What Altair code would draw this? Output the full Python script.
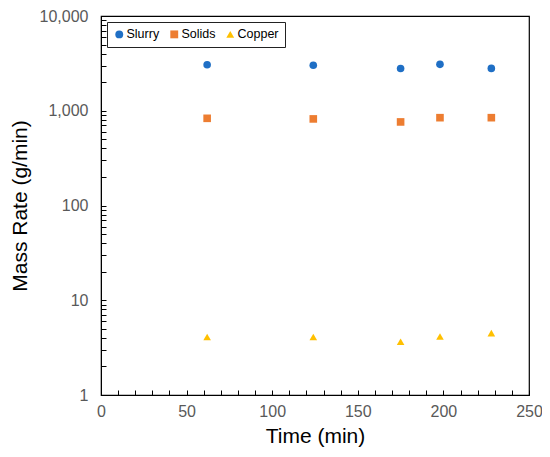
import altair as alt
import pandas as pd

times = [62, 124, 175, 198, 228]
slurry = [3060, 3020, 2790, 3090, 2800]
solids = [832, 820, 762, 845, 845]
copper = [4.1, 4.1, 3.65, 4.15, 4.5]
series_names = ["Slurry", "Solids", "Copper"]
series_colors = ["#1F6FC5", "#ED7D31", "#FFC000"]
series_shapes = ["circle", "square", "triangle-up"]

x_major = [0, 50, 100, 150, 200, 250]
x_minor = list(range(0, 251, 10))
y_major = [1, 10, 100, 1000, 10000]
y_minor = [m * d for d in [1, 10, 100, 1000] for m in range(1, 10)] + [10000]

rows = []
for name, vals in zip(series_names, [slurry, solids, copper]):
    for t, v in zip(times, vals):
        rows.append({"Series": name, "Time": t, "Value": v})
df = pd.DataFrame(rows)

font = "Liberation Sans"

xscale = alt.Scale(domain=[0, 250], nice=False, zero=False)
yscale = alt.Scale(type="log", domain=[1, 10000], nice=False)

color = alt.Color(
    "Series:N",
    scale=alt.Scale(domain=series_names, range=series_colors),
    legend=alt.Legend(
        title=None, orient="top-left", direction="horizontal",
        offset=6, padding=6, strokeColor="#222222",
        labelFont=font, labelFontSize=12.5, labelColor="#000000",
        symbolSize=62, symbolStrokeWidth=0, labelOffset=1, columnPadding=8,
        symbolOpacity=1,
    ),
)
shape = alt.Shape(
    "Series:N",
    scale=alt.Scale(domain=series_names, range=series_shapes),
    legend=None,
)

points = alt.Chart(df).mark_point(filled=True, size=58, opacity=1).encode(
    x=alt.X("Time:Q", scale=xscale, title="Time (min)",
            axis=alt.Axis(values=x_major, ticks=False, grid=False, labelFont=font,
                          labelFontSize=16, labelColor="#595959", labelPadding=8,
                          titleFont=font, titleFontSize=21, titleFontWeight="normal",
                          titleColor="#000000", titlePadding=6, domainColor="#000000",
                          labelFlush=False)),
    y=alt.Y("Value:Q", scale=yscale, title="Mass Rate (g/min)",
            axis=alt.Axis(values=y_major, ticks=False, grid=False, format=",",
                          labelFont=font, labelFontSize=16, labelColor="#595959",
                          labelPadding=13, titleFont=font, titleFontSize=21,
                          titleFontWeight="normal", titleColor="#000000",
                          titlePadding=9, domainColor="#000000")),
    color=color,
    shape=shape,
)

ticks_layer = alt.Chart(df).mark_point(opacity=0).encode(
    x=alt.X("Time:Q", scale=xscale, title=None,
            axis=alt.Axis(orient="bottom", offset=-5, values=x_minor, labels=False,
                          domain=False, grid=False, ticks=True, tickSize=5,
                          tickColor="#000000", tickWidth=1)),
    y=alt.Y("Value:Q", scale=yscale, title=None,
            axis=alt.Axis(orient="left", offset=-5, values=y_minor, labels=False,
                          domain=False, grid=False, ticks=True, tickSize=5,
                          tickColor="#000000", tickWidth=1)),
)

chart = alt.layer(points, ticks_layer).resolve_axis(
    x="independent", y="independent"
).properties(
    width=428, height=379,
    autosize=alt.AutoSizeParams(type="none"),
    padding={"left": 93, "top": 8, "right": 13, "bottom": 54},
).configure_view(stroke="#000000", strokeWidth=1.2)

chart.save("out.html", embed_options={"renderer": "svg", "actions": False})
